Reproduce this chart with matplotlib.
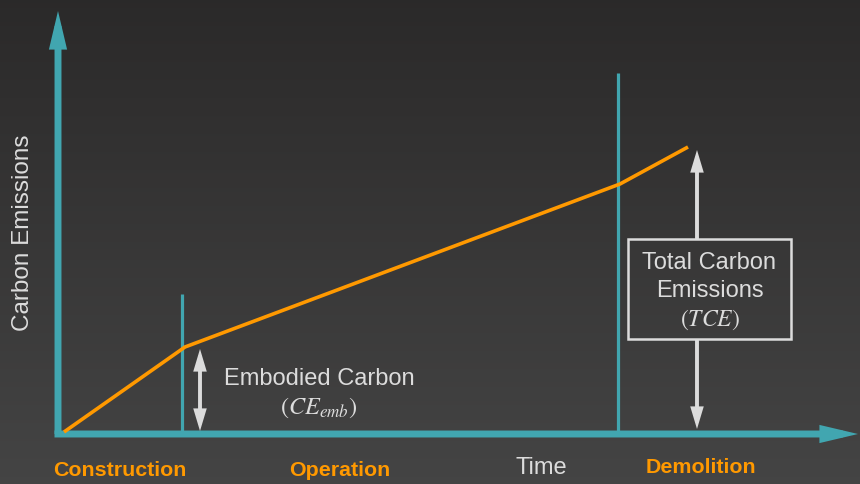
import numpy as np
import matplotlib
matplotlib.use("Agg")
import matplotlib.pyplot as plt
from matplotlib.patches import Rectangle

plt.rcParams['font.family'] = ['Liberation Sans', 'DejaVu Sans']
plt.rcParams['mathtext.fontset'] = 'stix'

# Carbon emissions over a building's life (arbitrary units)
time = [2, 123, 558, 626]
emissions = [2, 87, 250, 287]
phase_bounds = [120, 556]           # end of construction, end of operation
phase_bound_tops = [140, 361]
phases = ["Construction", "Operation", "Demolition"]
phase_label_x = [58, 278, 639]
phase_label_y = [-36, -36, -33]
embodied_x = 138
tce_x = 635

TEAL = "#41a6b0"
ORANGE = "#ff9900"
LIGHT = "#dcdcdc"

fig = plt.figure(figsize=(8.6, 4.85), dpi=100)

# background gradient
bg = fig.add_axes([0, 0, 1, 1])
bg.axis("off")
grad = np.linspace(0, 1, 256)[:, None]
top = np.array([0.168, 0.163, 0.163])
bot = np.array([0.268, 0.268, 0.268])
img = top + (bot - top) * grad[:, :, None]
bg.imshow(np.repeat(img, 2, axis=1), aspect="auto", extent=[0, 1, 0, 1], origin="upper")
bg.set_xlim(0, 1)
bg.set_ylim(0, 1)

ax = fig.add_axes([0, 0, 1, 1])
ax.set_xlim(-62, 798)
ax.set_ylim(-50, 435)
ax.axis("off")
ax.patch.set_alpha(0)


def arrow(x0, y0, x1, y1, style, lw, color, hl, hw):
    a = ax.annotate("", xy=(x1, y1), xytext=(x0, y0),
                    arrowprops=dict(arrowstyle=f"{style},head_length={hl},head_width={hw}",
                                    mutation_scale=20, lw=lw, color=color,
                                    shrinkA=0, shrinkB=0))
    a.arrow_patch.set_joinstyle("miter")
    a.arrow_patch.set_capstyle("butt")
    return a


# axes with arrows
arrow(-4, 0, -4, 423, "-|>", 5, TEAL, 0.72, 0.17)
arrow(-7.5, 0, 796, 0, "-|>", 5, TEAL, 0.72, 0.17)

# phase boundaries
for xb, yt in zip(phase_bounds, phase_bound_tops):
    ax.plot([xb, xb], [2, yt], color=TEAL, lw=2.3, solid_capstyle="butt")

# emissions curve
ax.plot(time, emissions, color=ORANGE, lw=2.6, solid_capstyle="butt", zorder=5)

# embodied carbon arrow
arrow(embodied_x, 3, embodied_x, emissions[1] - 2, "<|-|>", 2.8, LIGHT, 0.5, 0.15)
ax.text(257, 56, "Embodied Carbon", color=LIGHT, fontsize=17,
        ha="center", va="center")
ax.text(257, 27, r"$(CE_{emb})$", color=LIGHT, fontsize=17.5,
        ha="center", va="center")

# total carbon emissions arrows and box
box_x0, box_x1, box_y0, box_y1 = 566, 729, 95, 195
arrow(tce_x, box_y1, tce_x, emissions[-1] - 3, "-|>", 2.8, LIGHT, 0.5, 0.15)
arrow(tce_x, box_y0, tce_x, 5, "-|>", 2.8, LIGHT, 0.5, 0.15)
ax.add_patch(Rectangle((box_x0, box_y0), box_x1 - box_x0, box_y1 - box_y0,
                       facecolor="none", edgecolor=LIGHT, lw=1.8, zorder=4))
cx = (box_x0 + box_x1) / 2
ax.text(cx, 172, "Total Carbon", color=LIGHT, fontsize=17, ha="center", va="center")
ax.text(cx, 144, "Emissions", color=LIGHT, fontsize=17, ha="center", va="center")
ax.text(cx, 115, r"$(TCE)$", color=LIGHT, fontsize=17, ha="center", va="center")

# axis labels
ax.text(-39, 202, "Carbon Emissions", color=LIGHT, fontsize=17.5, rotation=90,
        ha="center", va="center")
ax.text(479, -33, "Time", color=LIGHT, fontsize=17, ha="center", va="center")

# phase labels
for name, xl, yl in zip(phases, phase_label_x, phase_label_y):
    ax.text(xl, yl, name, color=ORANGE, fontsize=15.4, fontweight="bold",
            ha="center", va="center")

fig.savefig("out.png", dpi=100)
